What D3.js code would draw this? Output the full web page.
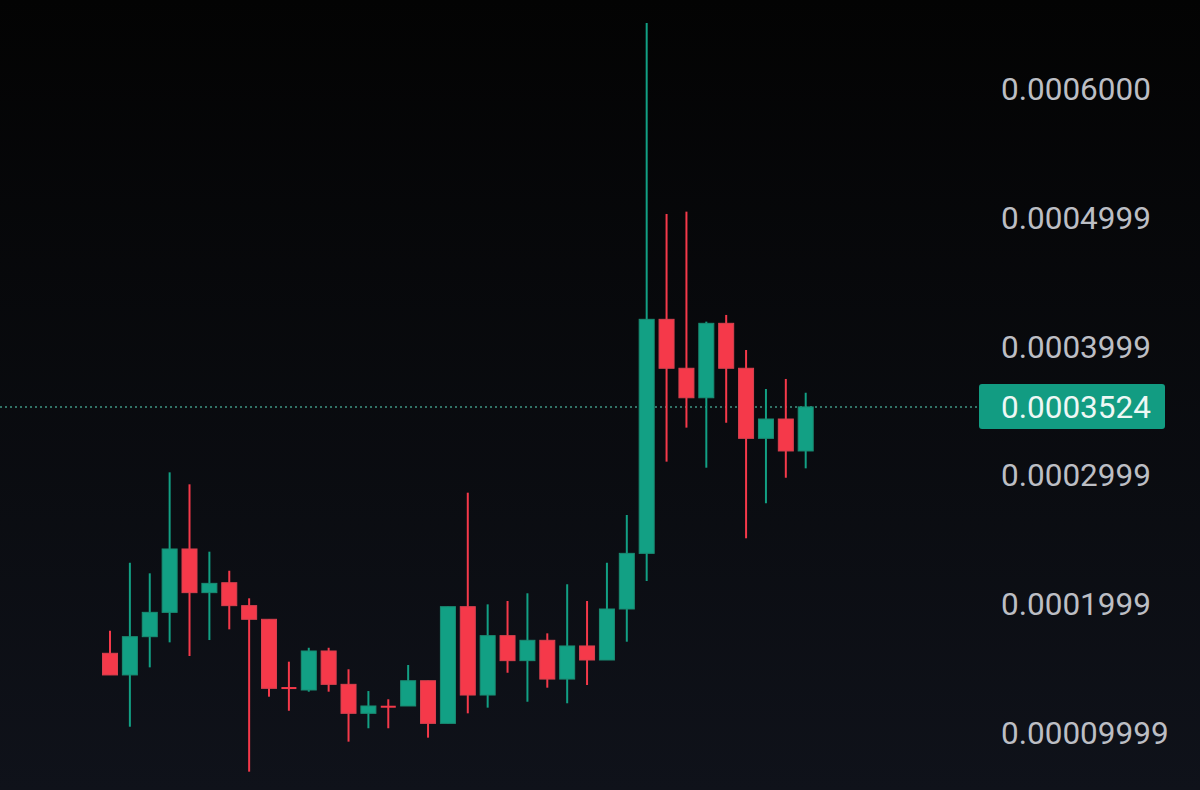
<!DOCTYPE html>
<meta charset="utf-8">
<style>
html, body{
    margin:0;
    padding:0;
    background:#07080a;
}
svg{
    display:block;
}
.yaxis text{
    font-family:Roboto, "Noto Sans", sans-serif;
    font-size:31.5px;
    fill:#bcbec4;
}
.wick{
    stroke-width:2px;
}
.lastTag text{
    font-family:Roboto, "Noto Sans", sans-serif;
    font-size:31.5px;
    fill:#eef8f5;
}
</style>
<body>
<script src="https://cdn.jsdelivr.net/npm/d3@7/dist/d3.min.js"></script>
<script>
// candle values, one entry per bar (oldest first)
var openVals  = [0.0001611,0.0001443,0.0001740,0.0001929,0.0002421,0.0002082,0.0002159,0.0001981,0.0001875,0.0001349,
                 0.0001326,0.0001629,0.0001370,0.0001145,0.0001204,0.0001202,0.0001398,0.0001067,0.0001973,0.0001287,
                 0.0001748,0.0001554,0.0001712,0.0001411,0.0001668,0.0001559,0.0001955,0.0002387,0.0004204,0.0003824,
                 0.0003595,0.0004173,0.0003824,0.0003280,0.0003430,0.0003182];
var highVals  = [0.0001787,0.0002314,0.0002232,0.0003016,0.0002923,0.0002400,0.0002252,0.0002038,0.0001875,0.0001546,
                 0.0001654,0.0001654,0.0001487,0.0001318,0.0001254,0.0001520,0.0001398,0.0001973,0.0002858,0.0001991,
                 0.0002017,0.0002077,0.0001766,0.0002147,0.0002017,0.0002314,0.0002685,0.0006505,0.0005022,0.0005040,
                 0.0004186,0.0004238,0.0003966,0.0003663,0.0003741,0.0003634];
var lowVals   = [0.0001443,0.0001041,0.0001502,0.0001696,0.0001590,0.0001714,0.0001797,0.0000692,0.0001274,0.0001165,
                 0.0001313,0.0001313,0.0000925,0.0001029,0.0001029,0.0001202,0.0000956,0.0001067,0.0001145,0.0001189,
                 0.0001460,0.0001235,0.0001344,0.0001223,0.0001365,0.0001559,0.0001701,0.0002172,0.0003099,0.0003363,
                 0.0003052,0.0003401,0.0002504,0.0002776,0.0002974,0.0003047];
var closeVals = [0.0001443,0.0001740,0.0001929,0.0002421,0.0002082,0.0002154,0.0001981,0.0001875,0.0001339,0.0001345,
                 0.0001629,0.0001370,0.0001145,0.0001202,0.0001198,0.0001398,0.0001067,0.0001973,0.0001287,0.0001748,
                 0.0001554,0.0001712,0.0001411,0.0001668,0.0001559,0.0001955,0.0002387,0.0004204,0.0003824,0.0003595,
                 0.0004173,0.0003824,0.0003280,0.0003430,0.0003182,0.0003524];

var tickVals   = [0.0006, 0.0004999, 0.0003999, 0.0002999, 0.0001999, 0.00009999];
var tickLabels = ["0.0006000","0.0004999","0.0003999","0.0002999","0.0001999","0.00009999"];
var lastPrice = 0.0003524, lastLabel = "0.0003524";

var W = 1200, H = 790;
var upCol = "#12a084", upEdge = "#1a8c73";
var downCol = "#f5394a", downEdge = "#d8414f";

var candles = openVals.map(function(o, i){
    return {i:i, open:o, high:highVals[i], low:lowVals[i], close:closeVals[i]};
});

var svg = d3.select("body").append("svg").attr("width", W).attr("height", H);

var grad = svg.append("defs").append("linearGradient")
    .attr("id","bg").attr("x1",0).attr("y1",0).attr("x2",0).attr("y2",1);
grad.append("stop").attr("offset","0%").attr("stop-color","#030303");
grad.append("stop").attr("offset","100%").attr("stop-color","#0f121a");
svg.append("rect").attr("width", W).attr("height", H).attr("fill","url(#bg)");

var x = d3.scalePoint()
    .domain(d3.range(candles.length))
    .range([110, 805.7]);

var y = d3.scaleLinear()
    .domain([0.0001, 0.0006])
    .range([732, 88]);

var bodyW = 15;

// last price dotted line
svg.append("line")
    .attr("x1", 0).attr("x2", 980)
    .attr("y1", y(lastPrice)).attr("y2", y(lastPrice))
    .attr("stroke", "#3f9684")
    .attr("stroke-width", 1.5)
    .attr("stroke-dasharray", "2,3");

var g = svg.append("g").attr("id","g_candles");

var c = g.selectAll("g").data(candles).enter().append("g");

c.append("line")
    .attr("class","wick")
    .attr("x1", function(d){ return x(d.i); })
    .attr("x2", function(d){ return x(d.i); })
    .attr("y1", function(d){ return y(d.high); })
    .attr("y2", function(d){ return y(d.low); })
    .attr("stroke", function(d){ return d.close >= d.open ? upCol : downCol; });

c.append("rect")
    .attr("x", function(d){ return x(d.i) - bodyW/2; })
    .attr("width", bodyW)
    .attr("y", function(d){ return y(Math.max(d.open, d.close)); })
    .attr("height", function(d){ return Math.max(2, Math.abs(y(d.open) - y(d.close))); })
    .attr("fill", function(d){ return d.close >= d.open ? upCol : downCol; })
    .attr("stroke", function(d){ return d.close >= d.open ? upEdge : downEdge; })
    .attr("stroke-width", function(d){ return Math.abs(y(d.open) - y(d.close)) > 4 ? 1 : 0; });

// price axis on the right
var axis = d3.axisRight(y)
    .tickValues(tickVals)
    .tickFormat(function(d, i){ return tickLabels[i]; })
    .tickSize(0)
    .tickPadding(0);

svg.append("g")
    .attr("class","yaxis")
    .attr("transform","translate(1001,0)")
    .call(axis)
    .call(function(s){ s.select(".domain").remove(); })
    .selectAll("text")
    .attr("dy","0.36em");

// last price tag
var tag = svg.append("g").attr("class","lastTag");
tag.append("rect")
    .attr("x", 979).attr("y", y(lastPrice) - 23)
    .attr("width", 186).attr("height", 45)
    .attr("rx", 3)
    .attr("fill", "#129c82");
tag.append("text")
    .attr("x", 1001).attr("y", y(lastPrice))
    .attr("dy","0.36em")
    .text(lastLabel);
</script>
</body>
